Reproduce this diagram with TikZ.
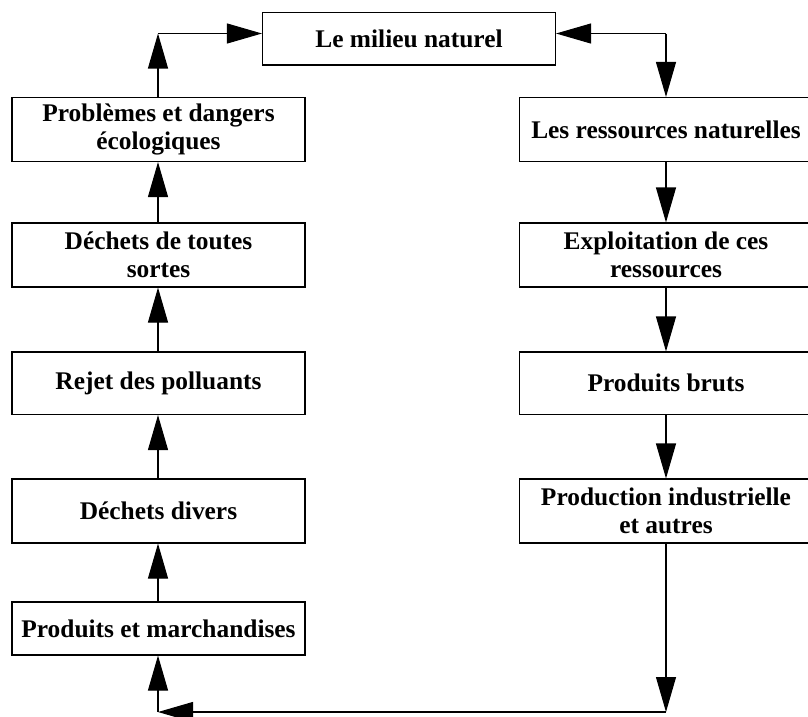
\documentclass[tikz,border=0pt]{standalone}
\usepackage{fontspec}
\setmainfont{Liberation Serif}
\usetikzlibrary{arrows.meta}
\begin{document}
\begin{tikzpicture}[x=1pt,y=-1pt,
  box/.style={draw, line width=1.1pt, minimum width=293pt, inner sep=0pt, align=center,
    font=\fontsize{25.4}{27.5}\selectfont\bfseries},
  arr/.style={line width=1.1pt, -{Triangle[length=35pt,width=20pt]}}]
\useasboundingbox (0,0) rectangle (808,716);
% top
\node[box, minimum height=52.3pt] (top) at (409,38.85) {Le milieu naturel};
% left column
\node[box, minimum height=64pt] (l1) at (158.5,129.5) {Problèmes et dangers\\écologiques};
\node[box, minimum height=64pt] (l2) at (158.5,255) {Déchets de toutes\\sortes};
\node[box, minimum height=62.5pt] (l3) at (158.5,383.25) {Rejet des polluants};
\node[box, minimum height=64pt] (l4) at (158.5,511) {Déchets divers};
\node[box, minimum height=53pt] (l5) at (158.5,628.5) {Produits et marchandises};
% right column
\node[box, minimum height=64pt] (r1) at (666,129.5) {Les ressources naturelles};
\node[box, minimum height=64pt] (r2) at (666,255) {Exploitation de ces\\ressources};
\node[box, minimum height=62.5pt] (r3) at (666,383.25) {Produits bruts};
\node[box, minimum height=64pt] (r4) at (666,511) {Production industrielle\\et autres};
% corners
\coordinate (cTL) at (158,33.5);
\coordinate (cTR) at (666,33.5);
\coordinate (cBR) at (666,712);
\coordinate (cBL) at (158,712);
% left column arrows (upwards)
\draw[arr] (l5.north -| cTL) -- (l4.south -| cTL);
\draw[arr] (l4.north -| cTL) -- (l3.south -| cTL);
\draw[arr] (l3.north -| cTL) -- (l2.south -| cTL);
\draw[arr] (l2.north -| cTL) -- (l1.south -| cTL);
\draw[arr] (l1.north -| cTL) -- (cTL);
\draw[arr] (cTL) -- (top.west |- cTL);
% top right
\draw[arr] (cTR) -- (top.east |- cTR);
\draw[arr] (cTR) -- (r1.north);
% right column arrows (downwards)
\draw[arr] (r1.south) -- (r2.north);
\draw[arr] (r2.south) -- (r3.north);
\draw[arr] (r3.south) -- (r4.north);
% bottom loop
\draw[arr] (r4.south) -- (cBR);
\draw[arr] (cBR) -- (cBL);
\draw[arr] (cBL) -- (l5.south -| cBL);
\end{tikzpicture}
\end{document}
